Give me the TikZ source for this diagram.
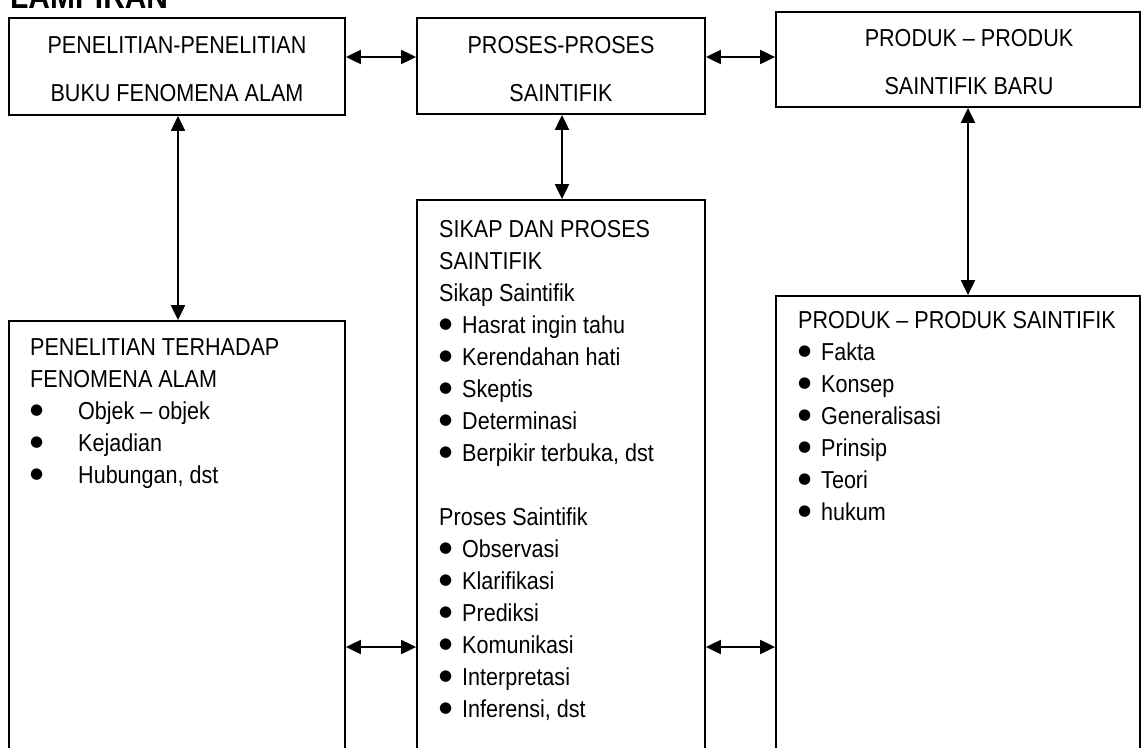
\documentclass[tikz,border=0pt]{standalone}
\usepackage{fontspec}
\setmainfont{Liberation Sans}[FakeStretch=0.88]
\newfontfamily\dejavu{DejaVu Sans}
\usetikzlibrary{arrows.meta}
\newcommand\bx[1]{\makebox[#1][l]{\raisebox{4.5pt}{\dejavu\fontsize{15}{15}\selectfont ●}}}
\newcommand\firstrule{\rule{0pt}{20pt}}
\newcommand\toprule{\rule{0pt}{23pt}}
\begin{document}
\begin{tikzpicture}[x=1pt,y=-1pt,
  box/.style={draw, line width=1.8pt, inner sep=0pt},
  topbox/.style={box, align=center, font=\fontsize{24.5}{48}\selectfont},
  listtext/.style={anchor=north west, inner sep=0pt, align=left, font=\fontsize{24.5}{32}\selectfont},
  biarrow/.style={line width=2pt, {Triangle[length=15pt,width=14pt]}-{Triangle[length=15pt,width=14pt]}}]
\useasboundingbox (0,0) rectangle (1147,747);
\fill[white] (0,0) rectangle (1147,747);
\clip (0,0) rectangle (1147,747);

\node[anchor=base west, inner sep=0pt, font=\fontsize{34}{40}\selectfont\bfseries] (title) at (10,8) {LAMPIRAN};

\node[topbox, minimum width=336pt, minimum height=97pt] (A) at (177,66.5) {\toprule PENELITIAN-PENELITIAN\\BUKU FENOMENA ALAM};
\node[topbox, minimum width=288pt, minimum height=96pt] (B) at (561,66) {\toprule PROSES-PROSES\\SAINTIFIK};
\node[topbox, minimum width=364pt, minimum height=95pt] (C) at (958,59.5) {\toprule\hspace*{22pt}PRODUK -- PRODUK\\\hspace*{22pt}SAINTIFIK BARU};

\node[box, minimum width=336pt, minimum height=449pt] (D) at (177,545.5) {};
\node[box, minimum width=288pt, minimum height=570pt] (E) at (561,485) {};
\node[box, minimum width=364pt, minimum height=474pt] (F) at (958,533) {};

\node[listtext] (Dt) at (30,335) {\firstrule PENELITIAN TERHADAP\\FENOMENA ALAM\\\bx{48pt}Objek -- objek\\\bx{48pt}Kejadian\\\bx{48pt}Hubungan, dst};
\node[listtext] (Et) at (439,217) {\firstrule SIKAP DAN PROSES\\SAINTIFIK\\Sikap Saintifik\\\bx{23pt}Hasrat ingin tahu\\\bx{23pt}Kerendahan hati\\\bx{23pt}Skeptis\\\bx{23pt}Determinasi\\\bx{23pt}Berpikir terbuka, dst\\[32pt]Proses Saintifik\\\bx{23pt}Observasi\\\bx{23pt}Klarifikasi\\\bx{23pt}Prediksi\\\bx{23pt}Komunikasi\\\bx{23pt}Interpretasi\\\bx{23pt}Inferensi, dst};
\node[listtext] (Ft) at (798,308) {\firstrule PRODUK -- PRODUK SAINTIFIK\\\bx{23pt}Fakta\\\bx{23pt}Konsep\\\bx{23pt}Generalisasi\\\bx{23pt}Prinsip\\\bx{23pt}Teori\\\bx{23pt}hukum};

\draw[biarrow] ([yshift=9.5pt]A.east) -- ([yshift=9pt]B.west);
\draw[biarrow] ([yshift=9pt]B.east) -- ([yshift=2.5pt]C.west);
\draw[biarrow] ([xshift=1pt]A.south) -- ([xshift=1pt]D.north);
\draw[biarrow] ([xshift=1pt]B.south) -- ([xshift=1pt]E.north);
\draw[biarrow] ([xshift=10pt]C.south) -- ([xshift=10pt]F.north);
\coordinate (low) at (0,647);
\draw[biarrow] (D.east |- low) -- (E.west |- low);
\draw[biarrow] (E.east |- low) -- (F.west |- low);
\end{tikzpicture}
\end{document}
